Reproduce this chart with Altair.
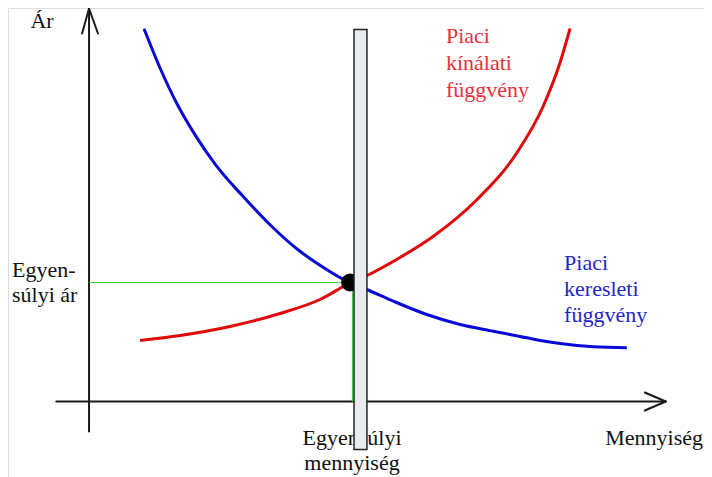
import altair as alt
import pandas as pd

# ---- data ----
demand_q = [1.106, 1.428, 1.790, 2.152, 2.555, 3.078, 3.641, 4.184, 4.707, 5.230,
            5.586, 6.122, 6.793, 7.464, 8.133, 8.805, 9.475, 10.145, 10.817]
demand_p = [7.454, 6.67, 5.914, 5.302, 4.722, 4.124, 3.536, 3.05, 2.686, 2.384,
            2.24, 2.006, 1.74, 1.54, 1.406, 1.274, 1.16, 1.094, 1.074]
supply_q = [1.026, 1.831, 2.836, 3.842, 4.647, 5.23, 5.552, 6.256, 6.920, 7.805, 8.610,
            9.133, 9.475, 9.676]
supply_p = [1.22, 1.32, 1.50, 1.76, 2.04, 2.36, 2.50, 2.88, 3.30, 4.04, 4.98,
            5.90, 6.78, 7.46]
eq_q, eq_p = 5.23, 2.38

label_texts = ["Ár", "Egyen-\nsúlyi ár", "Egyensúlyi\nmennyiség", "Mennyiség",
               "Piaci\nkínálati\nfüggvény", "Piaci\nkeresleti\nfüggvény"]

FONT = "'Liberation Serif', 'Times New Roman', 'DejaVu Serif', serif"
X = alt.Scale(domain=[-1.63, 12.37], nice=False, zero=False)
Y = alt.Scale(domain=[-1.51, 7.87], nice=False, zero=False)

def xenc(f="q"):
    return alt.X(f"{f}:Q", scale=X, axis=None)

def yenc(f="p"):
    return alt.Y(f"{f}:Q", scale=Y, axis=None)

# axes with open arrow heads
axes_df = pd.DataFrame({
    "q":  [0, -0.66, 0, 0, 11.60, 11.60],
    "p":  [-0.60, 0, 7.86, 7.86, 0, 0],
    "q2": [0, 11.60, -0.14, 0.18, 11.18, 11.18],
    "p2": [7.86, 0, 7.36, 7.36, 0.18, -0.18],
})
axes = alt.Chart(axes_df).mark_rule(color="#1a1a1a", strokeWidth=2, strokeCap="round").encode(
    x=xenc(), y=yenc(), x2="q2:Q", y2="p2:Q")

green_df = pd.DataFrame({"q": [0, eq_q + 0.07], "p": [eq_p, 0],
                         "q2": [eq_q, eq_q + 0.07], "p2": [eq_p, eq_p]})
green = alt.Chart(green_df).mark_rule(color="#3ccf3c", strokeWidth=1.2).encode(
    x=xenc(), y=yenc(), x2="q2:Q", y2="p2:Q")

demand = alt.Chart(pd.DataFrame({"q": demand_q, "p": demand_p})).mark_line(
    color="#0a0ad8", strokeWidth=3, interpolate="monotone").encode(x=xenc(), y=yenc())
supply = alt.Chart(pd.DataFrame({"q": supply_q, "p": supply_p})).mark_line(
    color="#e00a0a", strokeWidth=3, interpolate="monotone").encode(x=xenc(), y=yenc())

dot = alt.Chart(pd.DataFrame({"q": [eq_q + 0.02], "p": [eq_p]})).mark_point(
    filled=True, color="black", size=320, opacity=1).encode(x=xenc(), y=yenc())

bar = alt.Chart(pd.DataFrame({"q": [5.33], "q2": [5.59], "p": [-0.96], "p2": [7.44]})).mark_rect(
    fill="#e9ecef", stroke="#222222", strokeWidth=1.5).encode(
    x=xenc(), x2="q2:Q", y=yenc(), y2="p2:Q")

def label(text, q, p, align, color, lh=25):
    return alt.Chart(pd.DataFrame({"q": [q], "p": [p], "t": [text]})).mark_text(
        font=FONT, fontSize=22, align=align, baseline="alphabetic", color=color,
        lineBreak="\n", lineHeight=lh).encode(x=xenc(), y=yenc(), text="t:N")

labels = [
    label(label_texts[0], -0.945, 7.48, "center", "#111111"),
    label(label_texts[1], -1.549, 2.50, "left", "#111111"),
    label(label_texts[2], 5.29, -0.86, "center", "#111111"),
    label(label_texts[3], 12.35, -0.86, "right", "#111111"),
    label(label_texts[4], 7.18, 7.18, "left", "#e8303a", lh=27),
    label(label_texts[5], 9.555, 2.64, "left", "#2424c8", lh=26),
]

chart = alt.layer(axes, green, *labels, demand, supply, dot, bar).properties(
    width=696, height=469, padding=0, autosize=alt.AutoSizeParams(type="none"),
).configure_view(stroke=None).configure(background="white")

chart.save("out.html", embed_options={"renderer": "svg", "actions": False})
